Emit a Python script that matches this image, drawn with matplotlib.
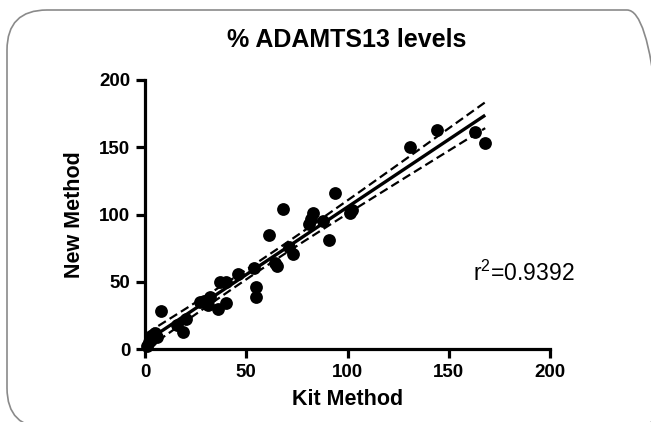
import numpy as np
import matplotlib
matplotlib.use("Agg")
import matplotlib.pyplot as plt
from matplotlib.patches import FancyBboxPatch
from matplotlib.transforms import IdentityTransform

plt.rcParams['font.family'] = ['Liberation Sans', 'DejaVu Sans']
plt.rcParams['mathtext.fontset'] = 'custom'
plt.rcParams['mathtext.rm'] = 'Liberation Sans'

kit_method = [1, 2, 3, 3.5, 5, 6, 8, 16, 19, 20, 27, 29, 31, 32, 36, 37, 40, 40,
              46, 54, 55, 55, 61, 64, 65, 68, 71, 73, 81, 82, 83, 88, 91, 94,
              101, 102, 131, 144, 163, 168]
new_method = [2, 5, 7, 10, 12, 9, 28, 18, 13, 22, 35, 36, 33, 39, 30, 50, 50, 34,
              56, 60, 46, 39, 85, 64, 62, 104, 76, 71, 93, 97, 101, 95, 81, 116,
              101, 103, 150, 163, 161, 153]
x_ticks = [0, 50, 100, 150, 200]
y_ticks = [0, 50, 100, 150, 200]
title = "% ADAMTS13 levels"
r2_label = r"$\mathregular{r^2}$=0.9392"

x = np.array(kit_method, dtype=float)
y = np.array(new_method, dtype=float)

fig = plt.figure(figsize=(6.51, 4.22), dpi=100)

# rounded frame (in pixel coordinates, origin bottom-left)
box = FancyBboxPatch((7, -6), 660, 418,
                     boxstyle="round,pad=0,rounding_size=40",
                     transform=IdentityTransform(), fill=False,
                     edgecolor="#8a8a8a", linewidth=1.2)
fig.patches.append(box)

ax = fig.add_axes([145 / 651, (422 - 349) / 422, 405 / 651, 269 / 422])

# regression and 95% confidence band
slope, intercept = np.polyfit(x, y, 1)
n = len(x)
xs = np.linspace(x.min(), x.max(), 200)
yfit = slope * xs + intercept
resid = y - (slope * x + intercept)
s = np.sqrt(np.sum(resid ** 2) / (n - 2))
sxx = np.sum((x - x.mean()) ** 2)
tval = 2.024
se = s * np.sqrt(1 / n + (xs - x.mean()) ** 2 / sxx)

ax.scatter(x, y, s=85, color="black", zorder=3, clip_on=False, linewidths=0)
ax.plot(xs, yfit, color="black", lw=2.4, zorder=4, solid_capstyle="butt")
ax.plot(xs, yfit + tval * se, color="black", lw=1.6, ls=(0, (4, 2)), zorder=4)
ax.plot(xs, yfit - tval * se, color="black", lw=1.6, ls=(0, (4, 2)), zorder=4)

ax.set_xlim(0, 200)
ax.set_ylim(0, 200)
ax.set_xticks(x_ticks)
ax.set_yticks(y_ticks)
for sp in ["top", "right"]:
    ax.spines[sp].set_visible(False)
for sp in ["left", "bottom"]:
    ax.spines[sp].set_linewidth(2.3)
ax.tick_params(direction="out", length=6.5, width=2.3, labelsize=13.5, pad=4)
for lab in ax.get_xticklabels() + ax.get_yticklabels():
    lab.set_fontweight("bold")

ax.set_xlabel("Kit Method", fontsize=15.5, fontweight="bold", labelpad=6)
ax.set_ylabel("New Method", fontsize=15.5, fontweight="bold", labelpad=10)

fig.text(347 / 651, 1 - 40 / 422, title, ha="center", va="center",
         fontsize=18, fontweight="bold")
ax.text(162, 56, r2_label, ha="left", va="center", fontsize=16.5)

fig.savefig("out.png", dpi=100)
